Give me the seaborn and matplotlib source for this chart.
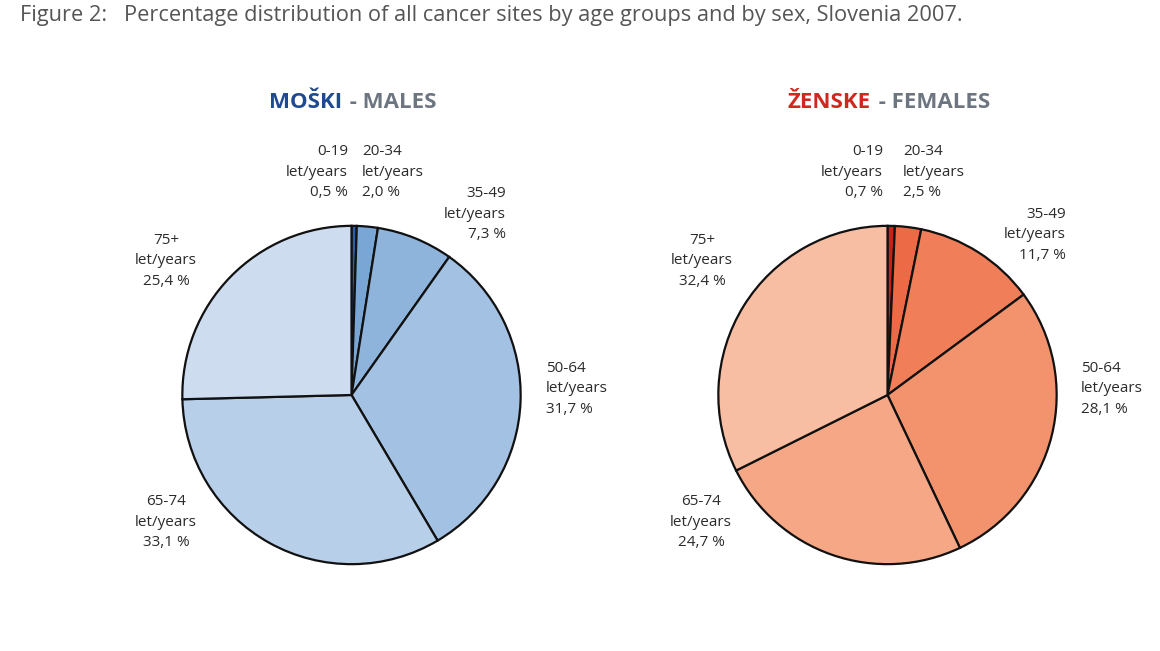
import matplotlib
matplotlib.use("Agg")
import matplotlib.pyplot as plt
import seaborn as sns

sns.set_theme(style="white")
plt.rcParams['font.family'] = ['Open Sans', 'DejaVu Sans']

age_groups = ['0-19', '20-34', '35-49', '50-64', '65-74', '75+']
males = [0.5, 2.0, 7.3, 31.7, 33.1, 25.4]
females = [0.7, 2.5, 11.7, 28.1, 24.7, 32.4]

male_colors = ['#2c5fa8', '#7aa6d6', '#8fb4dc', '#a3c1e3', '#b8cfea', '#cddcee']
female_colors = ['#c8201a', '#ec6a45', '#f07e58', '#f3936e', '#f6a786', '#f8bea4']

W, H = 1160, 651
fig = plt.figure(figsize=(W / 100, H / 100), dpi=100)
fig.patch.set_facecolor('white')

def px(x, y):
    return x / W, 1 - y / H

# label anchor (pixel x, pixel y of middle line, alignment), per age group
male_lab = [(348, 172, 'right'), (362, 172, 'left'), (506, 214, 'right'),
            (546, 389, 'left'), (166, 522, 'center'), (166, 261, 'center')]
female_lab = [(883, 172, 'right'), (903, 172, 'left'), (1066, 235, 'right'),
              (1081, 389, 'left'), (701, 522, 'center'), (702, 261, 'center')]

def draw_pie(cx, cy, r, vals, cols, labs):
    ax = fig.add_axes([(cx - r) / W, (H - cy - r) / H, 2 * r / W, 2 * r / H])
    ax.pie(vals, colors=cols, startangle=90, counterclock=False,
           wedgeprops=dict(edgecolor='#111111', linewidth=1.6))
    ax.set_xlim(-1.005, 1.005)
    ax.set_ylim(-1.005, 1.005)
    ax.axis('off')
    for g, v, (lx, ly, ha) in zip(age_groups, vals, labs):
        txt = f"{g}\nlet/years\n{v:.1f} %".replace('.', ',')
        fig.text(*px(lx, ly), txt, ha=ha, va='center', fontsize=11,
                 color='#2b2b2b', linespacing=1.5)

draw_pie(351.5, 395, 170, males, male_colors, male_lab)
draw_pie(887.5, 395, 170, females, female_colors, female_lab)

fig.text(*px(20, 16), "Figure 2:   Percentage distribution of all cancer sites by age groups and by sex, Slovenia 2007.",
         ha='left', va='center', fontsize=15.7, color='#555555')

fig.text(*px(342, 102), "MOŠKI", ha='right', va='center', fontsize=16,
         fontweight='bold', color='#1f4a8f')
fig.text(*px(344, 102), " - MALES", ha='left', va='center', fontsize=16,
         fontweight='bold', color='#6d7580')
fig.text(*px(871, 102), "ŽENSKE", ha='right', va='center', fontsize=16,
         fontweight='bold', color='#d0281e')
fig.text(*px(873, 102), " - FEMALES", ha='left', va='center', fontsize=16,
         fontweight='bold', color='#6d7580')

fig.savefig('out.png', dpi=100, facecolor='white')
